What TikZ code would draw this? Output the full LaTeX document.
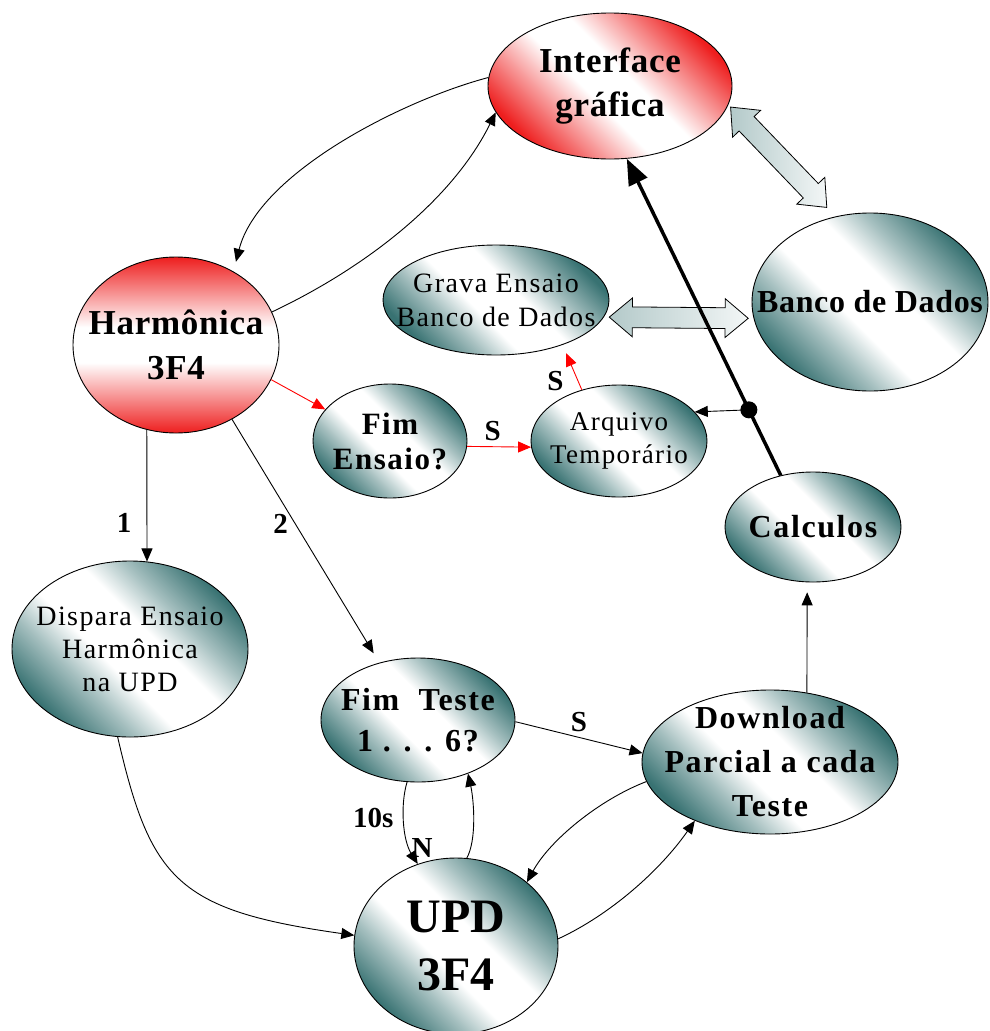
\documentclass[tikz,border=0pt]{standalone}
\usepackage{fontspec}
\setmainfont{Liberation Serif}
\newfontfamily\lsA[LetterSpace=5]{Liberation Serif}
\newfontfamily\lsB[LetterSpace=2]{Liberation Serif}
\usetikzlibrary{shapes.geometric,shapes.arrows,arrows.meta,calc}
\definecolor{tealc}{RGB}{56,114,114}
\colorlet{teallt}{tealc!45!white}
\definecolor{redc}{RGB}{238,30,30}
\colorlet{redlt}{redc!40!white}
\pgfdeclareverticalshading{tealsh}{100bp}{color(0bp)=(tealc); color(25bp)=(tealc); color(36bp)=(teallt); color(44bp)=(white); color(56bp)=(white); color(64bp)=(teallt); color(75bp)=(tealc); color(100bp)=(tealc)}
\pgfdeclareverticalshading{redsh}{100bp}{color(0bp)=(redc); color(25bp)=(redc); color(37bp)=(redlt); color(45bp)=(white); color(55bp)=(white); color(63bp)=(redlt); color(75bp)=(redc); color(100bp)=(redc)}
\begin{document}
\begin{tikzpicture}[x=1pt,y=-1pt,
  tnode/.style={ellipse, draw=black, line width=0.9pt, inner sep=0pt,
    shade, shading=tealsh, shading angle=-45},
  rnode/.style={ellipse, draw=black, line width=0.9pt, inner sep=0pt,
    shade, shading=redsh, shading angle=-45},
  txt/.style={align=center, inner sep=0pt},
  conn/.style={line width=0.9pt, -{Triangle[length=13pt,width=11pt]}},
  redconn/.style={conn, draw=red},
  lbl/.style={font=\bfseries\fontsize{29}{29}\selectfont, inner sep=1pt},
  blockarr/.style={double arrow, draw=black, line width=0.8pt,
    left color=tealc!38!white, right color=tealc!6!white,
    inner xsep=0pt, inner ysep=10pt, double arrow head extend=9pt, double arrow tip angle=80},
  thickarr/.style={line width=3.5pt, -{Triangle[length=26pt,width=20pt]}}
]
\useasboundingbox (0,0) rectangle (990,1031);

% ellipses
\node[rnode, minimum width=244pt, minimum height=146pt] (inter) at (610,86) {};
\node[rnode, shading angle=0, minimum width=206pt, minimum height=176pt] (harm) at (176,345) {};
\node[tnode, minimum width=226pt, minimum height=110pt] (grava) at (496,300) {};
\node[tnode, minimum width=154pt, minimum height=114pt] (fimens) at (390,441) {};
\node[tnode, minimum width=176pt, minimum height=112pt] (arq) at (619,441) {};
\node[tnode, minimum width=236pt, minimum height=178pt] (banco) at (870,302) {};
\node[tnode, minimum width=176pt, minimum height=110pt] (calc) at (813,527) {};
\node[tnode, minimum width=256pt, minimum height=144pt] (down) at (770,762) {};
\node[tnode, minimum width=236pt, minimum height=176pt] (disp) at (130,649) {};
\node[tnode, minimum width=194pt, minimum height=124pt] (fimteste) at (418,720) {};
\node[tnode, minimum width=204pt, minimum height=176pt] (upd) at (456,946) {};

% texts
\node[txt, font=\lsB\bfseries\fontsize{35}{44}\selectfont] (inter-t) at (inter) {Interface\\gráfica};
\node[txt, font=\lsB\bfseries\fontsize{35}{45}\selectfont] (harm-t) at (harm) {Harmônica\\3F4};
\node[txt, font=\lsA\fontsize{28}{34}\selectfont] (grava-t) at (grava) {Grava Ensaio\\Banco de Dados};
\node[txt, font=\lsA\bfseries\fontsize{31}{35}\selectfont] (fimens-t) at (fimens) {Fim\\Ensaio?};
\node[txt, font=\lsA\fontsize{27}{33}\selectfont] (arq-t) at (arq) {Arquivo\\Temporário};
\node[txt, font=\lsB\bfseries\fontsize{32}{40}\selectfont] (banco-t) at (banco) {Banco de Dados};
\node[txt, font=\lsA\bfseries\fontsize{32}{40}\selectfont] (calc-t) at (calc) {Calculos};
\node[txt, font=\lsA\bfseries\fontsize{32}{44}\selectfont] (down-t) at (down) {Download\\Parcial a cada\\Teste};
\node[txt, font=\lsA\fontsize{28}{33}\selectfont] (disp-t) at (disp) {Dispara Ensaio\\Harmônica\\na UPD};
\node[txt, font=\lsA\bfseries\fontsize{32}{41}\selectfont] (fimteste-t) at (fimteste) {Fim\ \ Teste\\1 . . . 6?};
\node[txt, font=\bfseries\fontsize{48}{58}\selectfont] (upd-t) at (upd) {UPD\\3F4};

% connectors
\draw[conn, shorten >=10pt] (inter.176) .. controls +(-87,23) and +(25,-98) .. (harm.52);
\draw[conn] (harm.19) .. controls +(95,-45) and +(-43,87) .. (inter.193);
\draw[redconn] (harm.-20) -- (fimens.154);
\draw[redconn] (fimens.-4) -- node[lbl, pos=0.4, above=4pt] (s1) {S} (arq.184);
\draw[redconn, shorten >=9pt] (arq.126) -- node[lbl, pos=0.2, left=13pt] (s2) {S} (grava.-34);
\draw[conn] (harm.251) -- node[lbl, pos=0.71, left=14pt] (l1) {1} (disp.79);
\draw[conn, shorten >=11pt] (harm.-53) -- node[lbl, pos=0.43, left=6pt] (l2) {2} (fimteste.124);
\draw[conn] (disp.-98) .. controls +(33,143) and +(-177,-25) .. (upd.174);
\draw[conn] (fimteste.-1) -- node[lbl, pos=0.5, above=4pt] (s3) {S} (down.176);
\draw[conn] (fimteste.260) .. controls +(-7,23) and +(-15,-24) ..
  node[lbl, pos=0.45, left=9pt] (l10) {10s} node[lbl, pos=0.8, right=0pt] (ln) {N} (upd.115);
\draw[conn] (upd.83) .. controls +(10,-18) and +(6,27) .. (fimteste.-47);
\draw[conn] (down.189) .. controls +(-47,18) and +(23,-42) .. (upd.42);
\draw[conn] (upd.4) .. controls +(52,-24) and +(-35,50) .. (down.218);
\draw[conn, shorten >=10pt] (down.62) -- (calc.264);

% block arrows
\path (grava.-9) -- node[blockarr, minimum height=139pt, sloped] (ba1) {} (banco.188);
\path (inter.-9) -- node[blockarr, minimum height=139pt, sloped, pos=0.47] (ba2) {} (banco.112);

% thick arrow with junction
\draw[thickarr] (calc.122) -- (inter.-77);
\coordinate (dot) at ($(calc.122)!0.207!(inter.-77)$);
\draw[conn] (dot) -- (arq.21);
\fill (dot) circle (8.5);
\end{tikzpicture}
\end{document}
